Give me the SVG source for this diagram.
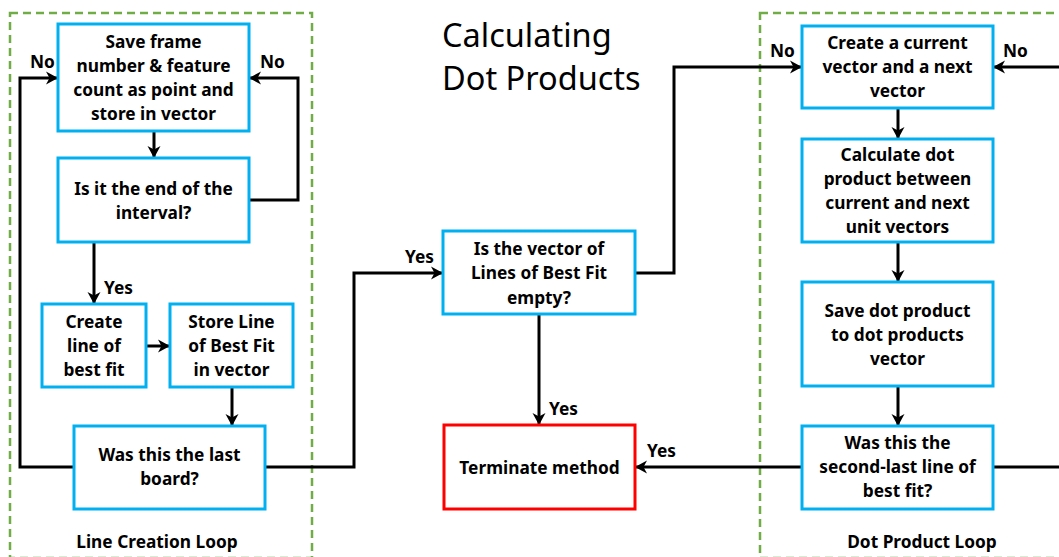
<svg xmlns="http://www.w3.org/2000/svg" width="1059" height="557" viewBox="0 0 1059 557">
  <defs>
    <marker id="arrow" markerUnits="userSpaceOnUse" markerWidth="16" markerHeight="16" viewBox="-14 -8 16 16" refX="0" refY="0" orient="auto">
      <path d="M-12,-6.5 L0,0 L-12,6.5 L-8.5,0 Z" fill="#000"/>
    </marker>
  </defs>
  <style>
    .group { fill: none; stroke: #70ad47; stroke-width: 2.5; stroke-dasharray: 8 5; }
    .box { fill: #fff; stroke: #00b0f0; stroke-width: 3; }
    .stop { fill: #fff; stroke: #ff0000; stroke-width: 3; }
    .wire { fill: none; stroke: #000; stroke-width: 3; }
    .arr { marker-end: url(#arrow); }
    text { font-family: "Noto Sans", "Liberation Sans", sans-serif; font-weight: bold; font-size: 17.3px; fill: #000; }
    .c { text-anchor: middle; }
    .title { font-weight: normal; font-size: 32.5px; }
  </style>

  <rect width="1059" height="557" fill="#fff"/>

  <!-- loop containers -->
  <g id="line-creation-loop">
    <rect class="group" x="10" y="13" width="302" height="545"/>
    <text class="c" x="157" y="548">Line Creation Loop</text>
  </g>
  <g id="dot-product-loop">
    <rect class="group" x="760" y="13" width="310" height="545"/>
    <text class="c" x="922" y="548">Dot Product Loop</text>
  </g>

  <g id="title">
    <text class="title" x="442" y="47">Calculating</text>
    <text class="title" x="442" y="90">Dot Products</text>
  </g>

  <!-- connectors -->
  <g id="connectors">
    <path class="wire arr" d="M154,131 V158"/>
    <path class="wire arr" d="M249,200 H298 V78 H249"/>
    <path class="wire arr" d="M94,242 V304"/>
    <path class="wire arr" d="M146,346 H170"/>
    <path class="wire arr" d="M232,387 V426"/>
    <path class="wire arr" d="M74,467 H20 V78 H58"/>
    <path class="wire arr" d="M265,467 H354 V273 H443"/>
    <path class="wire arr" d="M539,314 V425"/>
    <path class="wire arr" d="M635,273 H674 V67 H802"/>
    <path class="wire arr" d="M898,108 V139"/>
    <path class="wire arr" d="M898,242 V282"/>
    <path class="wire arr" d="M898,386 V426"/>
    <path class="wire arr" d="M802,467 H635"/>
    <path class="wire" d="M993,467 H1062"/>
    <path class="wire arr" d="M1062,67 H993"/>
    <text x="30" y="68">No</text>
    <text x="260" y="68">No</text>
    <text x="104" y="294">Yes</text>
    <text x="405" y="263">Yes</text>
    <text x="549" y="415">Yes</text>
    <text x="647" y="457">Yes</text>
    <text x="770" y="57">No</text>
    <text x="1003" y="57">No</text>
  </g>

  <!-- process and decision nodes -->
  <g id="save-point">
    <rect class="box" x="58" y="24" width="191" height="107"/>
    <text class="c" x="153.5" y="48">Save frame</text>
    <text class="c" x="153.5" y="72">number &amp; feature</text>
    <text class="c" x="153.5" y="96">count as point and</text>
    <text class="c" x="153.5" y="120">store in vector</text>
  </g>
  <g id="end-of-interval">
    <rect class="box" x="58" y="158" width="191" height="84"/>
    <text class="c" x="153.5" y="195">Is it the end of the</text>
    <text class="c" x="153.5" y="219">interval?</text>
  </g>
  <g id="create-line">
    <rect class="box" x="42" y="304" width="104" height="83"/>
    <text class="c" x="94" y="328">Create</text>
    <text class="c" x="94" y="352">line of</text>
    <text class="c" x="94" y="376">best fit</text>
  </g>
  <g id="store-line">
    <rect class="box" x="170" y="304" width="123" height="83"/>
    <text class="c" x="231.5" y="328">Store Line</text>
    <text class="c" x="231.5" y="352">of Best Fit</text>
    <text class="c" x="231.5" y="376">in vector</text>
  </g>
  <g id="last-board">
    <rect class="box" x="74" y="426" width="191" height="83"/>
    <text class="c" x="169.5" y="461">Was this the last</text>
    <text class="c" x="169.5" y="485">board?</text>
  </g>
  <g id="vector-empty">
    <rect class="box" x="443" y="231" width="192" height="83"/>
    <text class="c" x="539" y="255">Is the vector of</text>
    <text class="c" x="539" y="279">Lines of Best Fit</text>
    <text class="c" x="539" y="304">empty?</text>
  </g>
  <g id="terminate">
    <rect class="stop" x="444" y="425" width="191" height="84"/>
    <text class="c" x="539.5" y="474">Terminate method</text>
  </g>
  <g id="create-vectors">
    <rect class="box" x="802" y="26" width="191" height="82"/>
    <text class="c" x="897.5" y="49">Create a current</text>
    <text class="c" x="897.5" y="73">vector and a next</text>
    <text class="c" x="897.5" y="97">vector</text>
  </g>
  <g id="calculate-dot">
    <rect class="box" x="802" y="139" width="191" height="103"/>
    <text class="c" x="897.5" y="161">Calculate dot</text>
    <text class="c" x="897.5" y="185">product between</text>
    <text class="c" x="897.5" y="209">current and next</text>
    <text class="c" x="897.5" y="233">unit vectors</text>
  </g>
  <g id="save-dot">
    <rect class="box" x="802" y="282" width="191" height="104"/>
    <text class="c" x="897.5" y="317">Save dot product</text>
    <text class="c" x="897.5" y="341">to dot products</text>
    <text class="c" x="897.5" y="365">vector</text>
  </g>
  <g id="second-last">
    <rect class="box" x="802" y="426" width="191" height="83"/>
    <text class="c" x="897.5" y="449">Was this the</text>
    <text class="c" x="897.5" y="473">second-last line of</text>
    <text class="c" x="897.5" y="497">best fit?</text>
  </g>
</svg>
